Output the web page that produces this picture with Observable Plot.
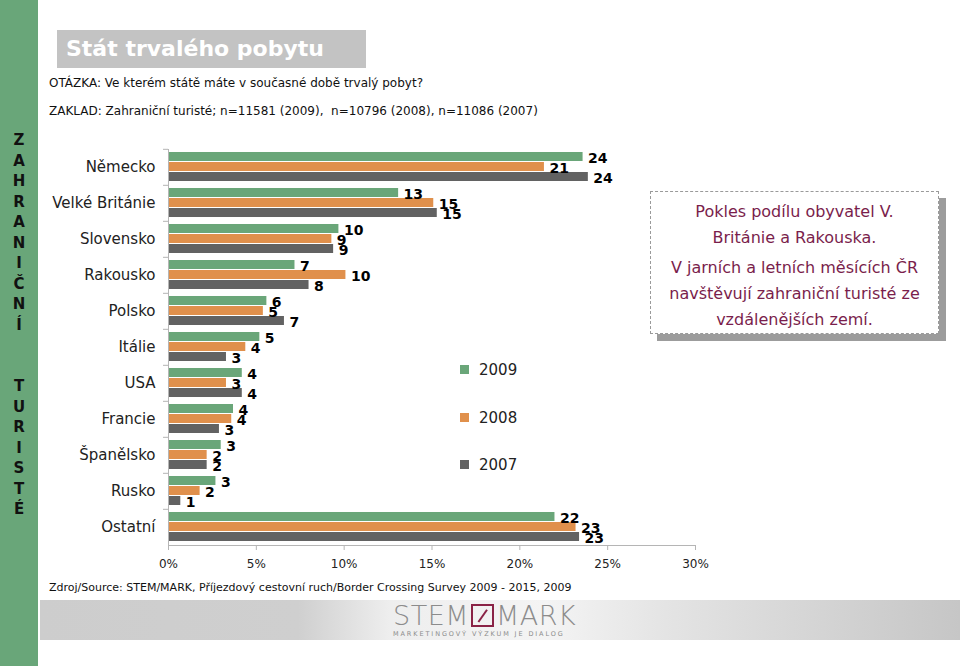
<!DOCTYPE html>
<html>
<head>
<meta charset="utf-8">
<script src="https://cdn.jsdelivr.net/npm/d3@7"></script>
<script src="https://cdn.jsdelivr.net/npm/@observablehq/plot@0.6"></script>
<style>
  html, body { margin: 0; padding: 0; background: #fff; }
  #page { position: relative; width: 960px; height: 666px; overflow: hidden; font-family: "DejaVu Sans", Verdana, sans-serif; color: #111; }
  #strip { position: absolute; left: 0; top: 0; width: 38px; height: 666px; background: #69a679; }
  #stripText { position: absolute; left: 0; top: 130px; width: 38px; text-align: center; font-weight: bold; font-size: 15px; line-height: 20.5px; color: #111; }
  #title { position: absolute; left: 57px; top: 30px; width: 309px; height: 38px; background: #c3c3c3; color: #fff; font-weight: bold; font-size: 22px; line-height: 38px; box-sizing: border-box; padding-left: 9px; }
  .sub { position: absolute; left: 49px; font-size: 12px; white-space: nowrap; color: #111; }
  #chart { position: absolute; left: 40px; top: 130px; }
  #legend { position: absolute; left: 460px; top: 360px; font-size: 15px; color: #222; }
  .lg { position: absolute; left: 0; white-space: nowrap; height: 20px; line-height: 20px; }
  .lg span.sw { display: inline-block; width: 9px; height: 9px; margin-right: 10px; vertical-align: 1px; }
  #callout { position: absolute; left: 650px; top: 191px; width: 289px; height: 143px; box-sizing: border-box; border: 1px dashed #9a9a9a; background: #fff; box-shadow: 7px 7px 0 #9c9c9c; color: #7a1e4c; font-size: 16px; text-align: center; line-height: 26px; padding-top: 7px; }
  #callout p { margin: 0; }
  #callout p + p { margin-top: 4px; }
  #source { position: absolute; left: 49px; top: 581px; font-size: 11px; white-space: nowrap; color: #111; }
  #banner { position: absolute; left: 40px; top: 600px; width: 920px; height: 40px; background: linear-gradient(to right, #cdcdcd 0%, #cfcfcf 28%, #eeeeee 38%, #f4f4f4 55%, #e4e4e4 68%, #c6c6c6 100%); }
  #logo { position: absolute; left: 353px; top: 3px; width: 190px; font-family: "DejaVu Sans", sans-serif; color: #8c8c8c; }
  #logo .big { font-size: 27px; font-weight: 200; letter-spacing: 0.5px; line-height: 26px; white-space: nowrap; }
  #logo .box { display: inline-block; width: 23px; height: 23px; border: 2px solid #8a2346; vertical-align: -2px; margin: 0 2px; position: relative; box-sizing: border-box; }
  #logo .box::after { content: ""; position: absolute; left: 2px; top: 9px; width: 15px; height: 1.5px; background: #8a2346; transform: rotate(-55deg); }
  #logo .small { font-size: 6.5px; letter-spacing: 1.9px; line-height: 9px; white-space: nowrap; color: #8c8c8c; margin-top: 1px; }
</style>
</head>
<body>
<div id="page">
  <div id="strip"><div id="stripText"></div></div>
  <div id="title">Stát trvalého pobytu</div>
  <div class="sub" style="top:76px">OTÁZKA: Ve kterém státě máte v současné době trvalý pobyt?</div>
  <div class="sub" style="top:104px">ZAKLAD: Zahraniční turisté; n=11581 (2009),&nbsp; n=10796 (2008), n=11086 (2007)</div>
  <div id="chart"></div>
  <div id="legend"></div>
  <div id="callout">
    <p>Pokles podílu obyvatel V.<br>Británie a Rakouska.</p>
    <p>V jarních a letních měsících ČR<br>navštěvují zahraniční turisté ze<br>vzdálenějších zemí.</p>
  </div>
  <div id="source">Zdroj/Source: STEM/MARK, Příjezdový cestovní ruch/Border Crossing Survey 2009 - 2015, 2009</div>
  <div id="banner">
    <div id="logo">
      <div class="big">STEM<span class="box"></span>MARK</div>
      <div class="small">MARKETINGOVÝ VÝZKUM JE DIALOG</div>
    </div>
  </div>
</div>
<script>
// ---- data ----
const countries = ["Německo", "Velké Británie", "Slovensko", "Rakousko", "Polsko", "Itálie", "USA", "Francie", "Španělsko", "Rusko", "Ostatní"];
const years = ["2009", "2008", "2007"];
const values2009 = [23.6, 13.1, 9.7, 7.2, 5.6, 5.2, 4.2, 3.7, 3.0, 2.7, 22.0];
const values2008 = [21.4, 15.1, 9.3, 10.1, 5.4, 4.4, 3.3, 3.6, 2.2, 1.8, 23.2];
const values2007 = [23.9, 15.3, 9.4, 8.0, 6.6, 3.3, 4.2, 2.9, 2.2, 0.7, 23.4];
const xTicks = [0, 5, 10, 15, 20, 25, 30];
const yearColors = ["#6aa679", "#e0904c", "#626262"];
const stripLetters = ["Z","A","H","R","A","N","I","Č","N","Í","","","T","U","R","I","S","T","É"];

const series = [values2009, values2008, values2007];
const data = [];
countries.forEach((c, i) => {
  years.forEach((y, j) => data.push({country: c, year: y, value: series[j][i]}));
});

document.getElementById("stripText").innerHTML = stripLetters.map(l => `<div>${l || "&nbsp;"}</div>`).join("");

const legend = document.getElementById("legend");
years.forEach((y, j) => {
  const d = document.createElement("div");
  d.className = "lg";
  d.style.top = (j * 47.5) + "px";
  d.innerHTML = `<span class="sw" style="background:${yearColors[j]}"></span>${y}`;
  legend.appendChild(d);
});

const chart = Plot.plot({
  width: 680,
  height: 450,
  marginLeft: 128,
  marginRight: 25,
  marginTop: 17,
  marginBottom: 33,
  style: {fontFamily: "DejaVu Sans, Verdana, sans-serif", color: "#111", background: "transparent"},
  x: {domain: [0, 30]},
  y: {domain: years, paddingInner: 0.09, paddingOuter: 0.24, axis: null},
  fy: {domain: countries, padding: 0},
  color: {domain: years, range: yearColors},
  marks: [
    Plot.barX(data, {x: "value", y: "year", fy: "country", fill: "year"}),
    Plot.text(data, {x: "value", y: "year", fy: "country", text: d => d3.format(".0f")(d.value), dx: 5, dy: 2, textAnchor: "start", fontWeight: "bold", fontSize: 14, fill: "#000"}),
    Plot.ruleX([0], {stroke: "#b5b5b5"}),
    Plot.axisFy({anchor: "left", tickSize: 0, tickPadding: 13, fontSize: 15, fill: "#222", label: null}),
    Plot.axisFy({anchor: "left", tickSize: 5, tickFormat: () => "", stroke: "#b5b5b5", dy: -18.18, label: null}),
    Plot.frame({anchor: "bottom", facet: "super", stroke: "#b5b5b5"}),
    Plot.axisX({ticks: xTicks, tickFormat: d => d + "%", tickSize: 5, tickPadding: 9, fontSize: 12, fill: "#222", stroke: "#b5b5b5", label: null})
  ]
});
document.getElementById("chart").appendChild(chart);
</script>
</body>
</html>
